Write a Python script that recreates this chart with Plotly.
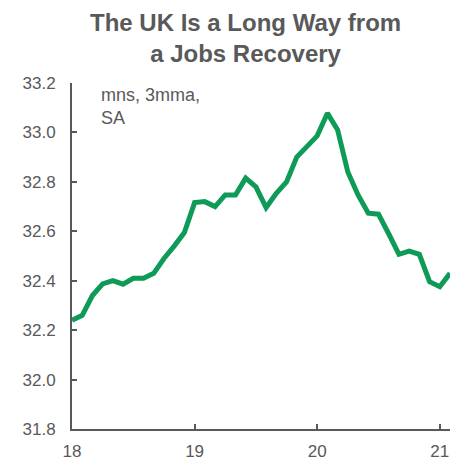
import plotly.graph_objects as go

start_year = 18
employment = [32.24, 32.26, 32.34, 32.387, 32.40, 32.386, 32.41, 32.41, 32.43, 32.49,
              32.54, 32.595, 32.716, 32.72, 32.70, 32.747, 32.747, 32.815, 32.78,
              32.696, 32.754, 32.80, 32.90, 32.94, 32.986, 33.078, 33.01, 32.84,
              32.747, 32.673, 32.669, 32.59, 32.507, 32.52, 32.507, 32.396, 32.376, 32.43]
months = [start_year + i / 12 for i in range(len(employment))]
x_ticks = [18, 19, 20, 21]
y_ticks = [31.8, 32.0, 32.2, 32.4, 32.6, 32.8, 33.0, 33.2]

gray = "#595959"
fig = go.Figure()
fig.add_trace(go.Scatter(x=months, y=employment, mode="lines",
                         line=dict(color="#0E9A57", width=5), hoverinfo="skip"))

fig.update_layout(
    width=463, height=462,
    margin=dict(l=72, r=13, t=83, b=33),
    paper_bgcolor="white", plot_bgcolor="white",
    showlegend=False,
    font=dict(family="Liberation Sans, Arial, sans-serif", color=gray, size=17),
    xaxis=dict(range=[months[0], months[-1]], tickvals=x_ticks,
               ticktext=[str(v) for v in x_ticks], showgrid=False, zeroline=False,
               showline=True, linecolor=gray, linewidth=2,
               ticks="inside", ticklen=5, tickcolor=gray, tickwidth=1.5,
               ticklabelstandoff=6, automargin=False,
               tickfont=dict(size=17, color=gray)),
    yaxis=dict(range=[31.8, 33.2], tickvals=y_ticks,
               ticktext=[f"{v:.1f}" for v in y_ticks], showgrid=False, zeroline=False,
               showline=True, linecolor=gray, linewidth=2,
               ticks="inside", ticklen=5, tickcolor=gray, tickwidth=1.5,
               ticklabelstandoff=11, automargin=False,
               tickfont=dict(size=17, color=gray)),
)
fig.add_annotation(text="<b>The UK Is a Long Way from<br>a Jobs Recovery</b>",
                   xref="paper", yref="paper", x=(245 - 72) / 378, y=1 + (83 - 7) / 346,
                   xanchor="center", yanchor="top", align="center", showarrow=False,
                   font=dict(size=24, color=gray))
fig.add_annotation(text="mns, 3mma,<br>SA", xref="paper", yref="paper",
                   x=(99 - 72) / 378, y=1 - 0 / 346, xanchor="left", yanchor="top",
                   align="left", showarrow=False, font=dict(size=18, color=gray))
fig.write_html("out.html")
